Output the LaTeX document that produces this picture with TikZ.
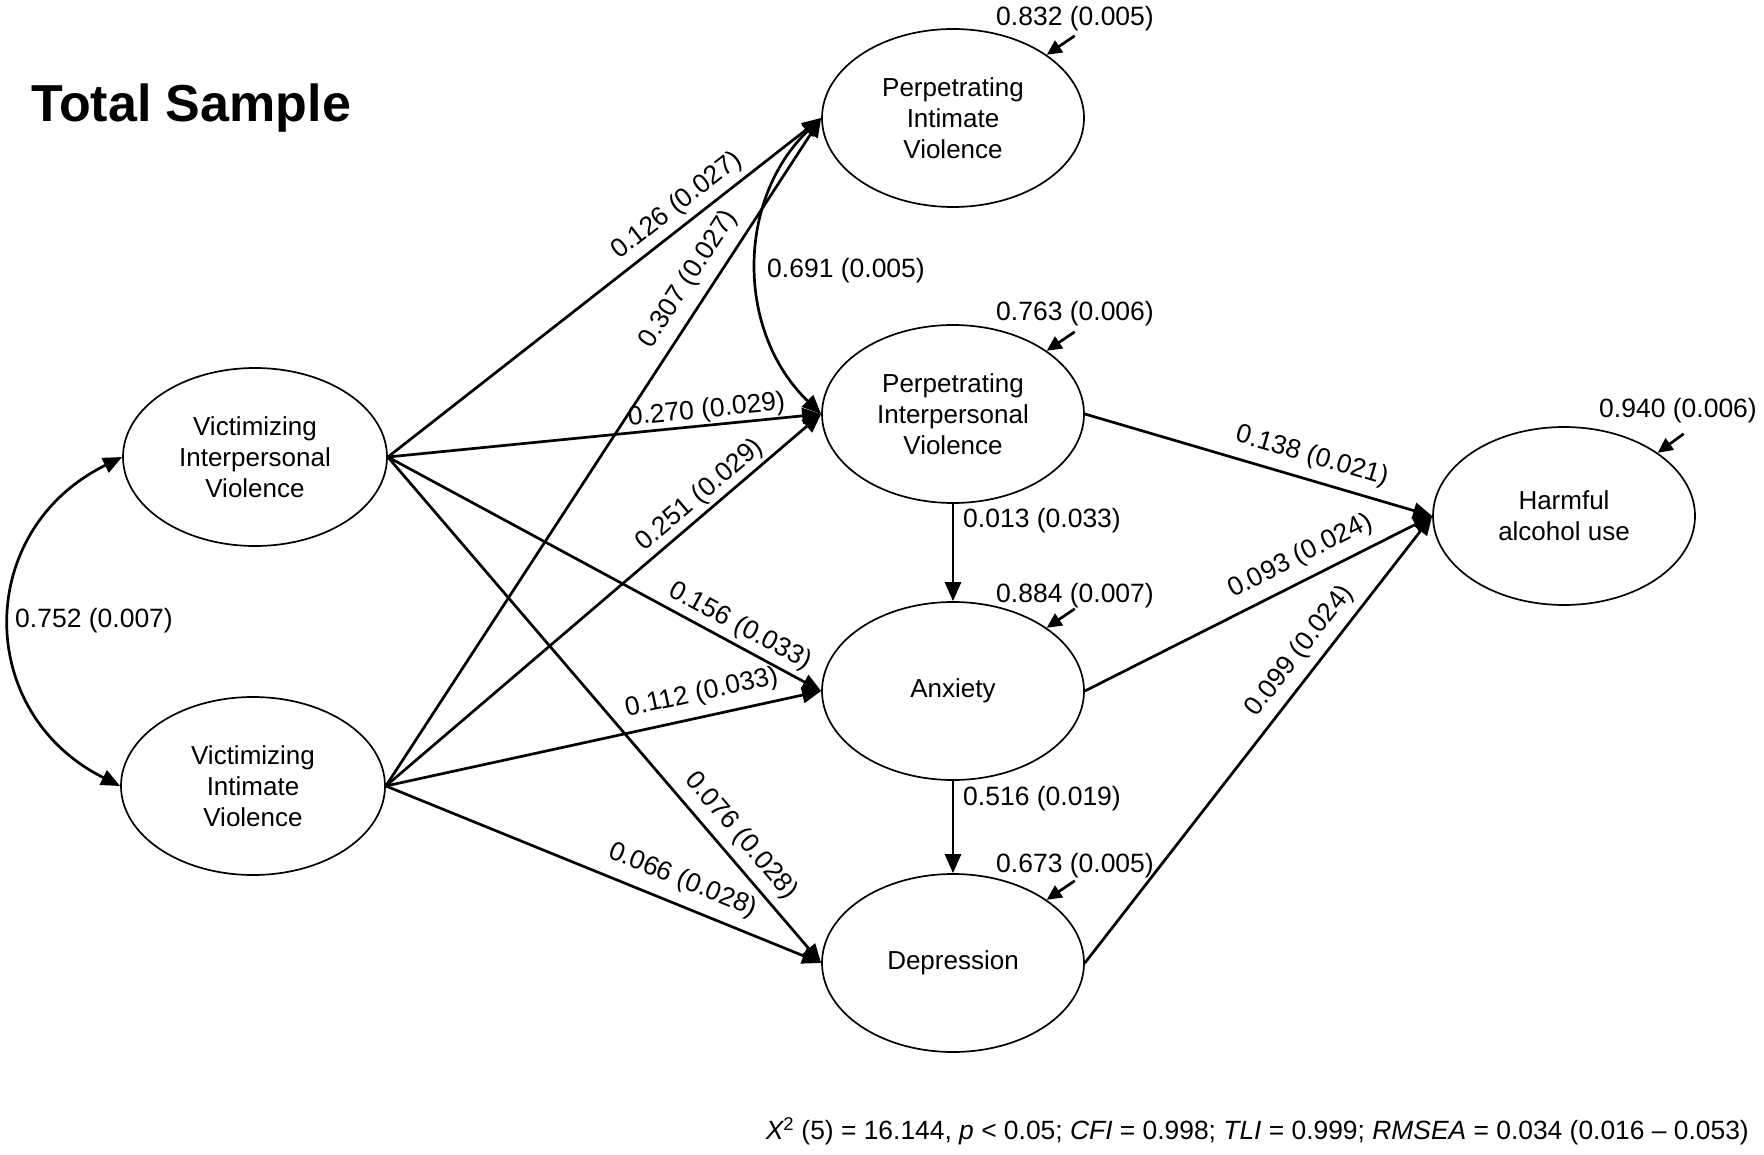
\documentclass[tikz,border=0pt]{standalone}
\usepackage{fontspec}
\setmainfont{Liberation Sans}
\usetikzlibrary{arrows.meta,shapes.geometric}
\begin{document}
\begin{tikzpicture}[x=1pt,y=-1pt,
  ell/.style={draw, line width=1.7pt, ellipse, minimum width=262pt, minimum height=178pt, inner sep=0pt, align=center, font=\fontsize{26}{31}\selectfont},
  lab/.style={font=\fontsize{26.5}{30}\selectfont, inner sep=0pt},
  el/.style={lab, sloped, anchor=south, inner ysep=#1},
  arr/.style={line width=2.7pt, -{Triangle[length=19pt,width=16pt]}},
  corr/.style={line width=2.7pt, {Triangle[length=19pt,width=16pt]}-{Triangle[length=19pt,width=16pt]}},
  resid/.style={line width=2.7pt, -{Triangle[length=15pt,width=14pt]}},
]
\fill[white] (0,0) rectangle (1764,1155);
\useasboundingbox (0,0) rectangle (1764,1155);

% title
\node[font=\fontsize{52}{60}\selectfont\bfseries, anchor=base west, inner sep=0pt] (title) at (31,122) {Total Sample};

% nodes
\node[ell] (piv)  at (953,118) {Perpetrating\\Intimate\\Violence};
\node[ell] (pipv) at (953,414) {Perpetrating\\Interpersonal\\Violence};
\node[ell] (anx)  at (953,691) {Anxiety};
\node[ell] (dep)  at (953,963) {Depression};
\node[ell, minimum width=264pt] (vipv) at (255,457) {Victimizing\\Interpersonal\\Violence};
\node[ell, minimum width=264pt] (viv)  at (253,786) {Victimizing\\Intimate\\Violence};
\node[ell] (hau)  at (1564,516) {Harmful\\alcohol use};

% paths from VIPV
\draw[arr] (vipv.east) -- node[el=6pt,  pos=0.695] {0.126 (0.027)} (piv.west);
\draw[arr] (vipv.east) -- node[el=1pt,  pos=0.739] {0.270 (0.029)} (pipv.west);
\draw[arr] (vipv.east) -- node[el=4.5pt,pos=0.793] {0.156 (0.033)} (anx.west);
\draw[arr] (vipv.east) -- node[el=8pt,  pos=0.777] {0.076 (0.028)} (dep.west);

% paths from VIV
\draw[arr] (viv.east) -- node[el=9pt,  pos=0.740] {0.307 (0.027)} (piv.west);
\draw[arr] (viv.east) -- node[el=3pt,  pos=0.747] {0.251 (0.029)} (pipv.west);
\draw[arr] (viv.east) -- node[el=9.5pt,pos=0.737] {0.112 (0.033)} (anx.west);
\draw[arr] (viv.east) -- node[el=10.5pt,pos=0.661] {0.066 (0.028)} (dep.west);

% paths to harmful alcohol use
\draw[arr] (pipv.east) -- node[el=9.5pt,pos=0.635] {0.138 (0.021)} (hau.west);
\draw[arr] (anx.east)  -- node[el=9.5pt,pos=0.651] {0.093 (0.024)} (hau.west);
\draw[arr] (dep.east)  -- node[el=8pt,  pos=0.668] {0.099 (0.024)} (hau.west);

% vertical paths
\draw[arr] (pipv.south) -- (anx.north);
\draw[arr] (anx.south) -- (dep.north);
\node[lab, anchor=west] (l013) at (963,521) {0.013 (0.033)};
\node[lab, anchor=west] (l516) at (963,799) {0.516 (0.019)};

% correlations
\draw[corr] (vipv.west) .. controls (-26,530) and (-26,713) .. (viv.west);
\node[lab, anchor=west] (l752) at (15,621) {0.752 (0.007)};
\draw[corr] (piv.west) .. controls (736,200) and (736,332) .. (pipv.west);
\node[lab] (l691) at (846,271) {0.691 (0.005)};

% residuals
\coordinate (rp1) at ([shift={(28,-19)}]piv.34);
\coordinate (rp2) at ([shift={(28,-19)}]pipv.34);
\coordinate (rp3) at ([shift={(28,-19)}]anx.34);
\coordinate (rp4) at ([shift={(28,-19)}]dep.34);
\coordinate (rp5) at ([shift={(26,-19)}]hau.34);
\draw[resid] (rp1) -- (piv.34);
\draw[resid] (rp2) -- (pipv.34);
\draw[resid] (rp3) -- (anx.34);
\draw[resid] (rp4) -- (dep.34);
\draw[resid] (rp5) -- (hau.34);
\node[lab] (r1) at (1075,19)  {0.832 (0.005)};
\node[lab] (r2) at (1075,314) {0.763 (0.006)};
\node[lab] (r3) at (1075,596) {0.884 (0.007)};
\node[lab] (r4) at (1075,866) {0.673 (0.005)};
\node[lab] (r5) at (1678,411) {0.940 (0.006)};

% fit indices
\node[lab, font=\fontsize{26.4}{30}\selectfont, anchor=east] (fit) at (1749,1131)
  {{\itshape X}\textsuperscript{2} (5) = 16.144, {\itshape p} < 0.05; {\itshape CFI} = 0.998; {\itshape TLI} = 0.999; {\itshape RMSEA} = 0.034 (0.016 – 0.053)};
\end{tikzpicture}
\end{document}
